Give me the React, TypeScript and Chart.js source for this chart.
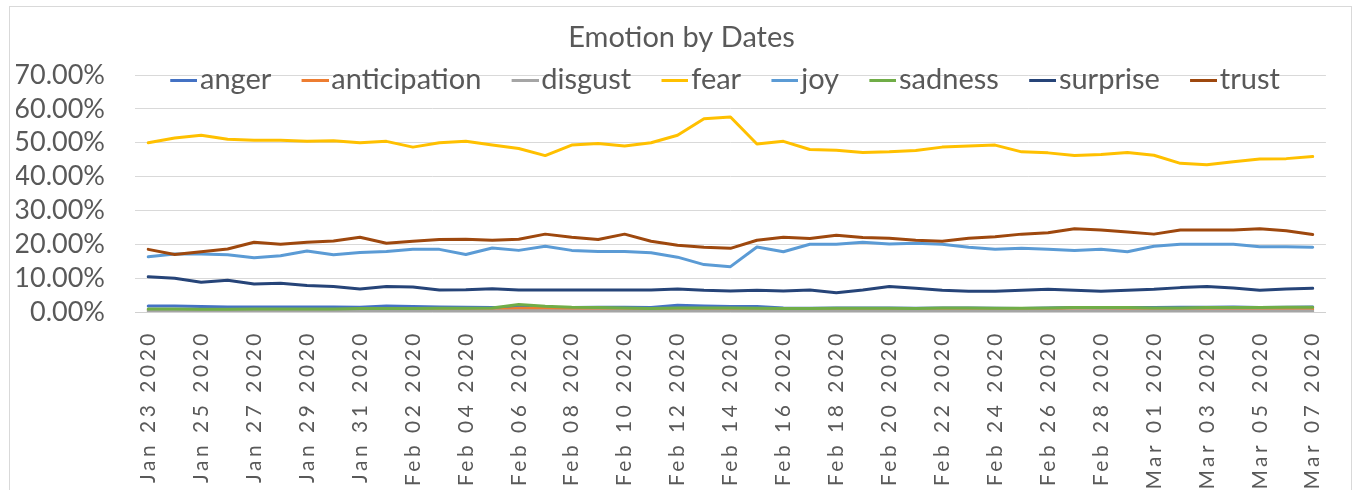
import { useEffect, useRef } from 'react';
import { Chart, registerables } from 'chart.js';

Chart.register(...registerables);

const DATES = [
  'Jan 23 2020', 'Jan 24 2020', 'Jan 25 2020', 'Jan 26 2020', 'Jan 27 2020', 'Jan 28 2020', 'Jan 29 2020',
  'Jan 30 2020', 'Jan 31 2020', 'Feb 01 2020', 'Feb 02 2020', 'Feb 03 2020', 'Feb 04 2020', 'Feb 05 2020',
  'Feb 06 2020', 'Feb 07 2020', 'Feb 08 2020', 'Feb 09 2020', 'Feb 10 2020', 'Feb 11 2020', 'Feb 12 2020',
  'Feb 13 2020', 'Feb 14 2020', 'Feb 15 2020', 'Feb 16 2020', 'Feb 17 2020', 'Feb 18 2020', 'Feb 19 2020',
  'Feb 20 2020', 'Feb 21 2020', 'Feb 22 2020', 'Feb 23 2020', 'Feb 24 2020', 'Feb 25 2020', 'Feb 26 2020',
  'Feb 27 2020', 'Feb 28 2020', 'Feb 29 2020', 'Mar 01 2020', 'Mar 02 2020', 'Mar 03 2020', 'Mar 04 2020',
  'Mar 05 2020', 'Mar 06 2020', 'Mar 07 2020',
];

const ANGER = [
  1.8, 1.8, 1.6, 1.5, 1.5, 1.5, 1.5, 1.5, 1.4, 1.8, 1.6, 1.5, 1.4, 1.3, 1.4, 1.2, 1.3, 1.4, 1.4, 1.3,
  2.0, 1.8, 1.6, 1.6, 1.2, 1.1, 1.2, 1.2, 1.2, 1.1, 1.2, 1.2, 1.1, 1.0, 1.2, 1.3, 1.2, 1.3, 1.3, 1.4,
  1.4, 1.5, 1.3, 1.4, 1.5,
];
const ANTICIPATION = [
  0.6, 0.5, 0.3, 0.3, 0.3, 0.4, 0.5, 0.5, 0.5, 0.5, 0.6, 0.5, 0.6, 0.5, 1.1, 1.0, 0.9, 0.8, 0.7, 0.5,
  0.6, 0.7, 0.7, 0.6, 0.6, 0.6, 0.6, 0.6, 0.5, 0.6, 0.6, 0.6, 0.7, 0.7, 0.9, 1.2, 1.0, 0.9, 0.8, 0.9,
  0.9, 0.9, 0.8, 0.9, 0.9,
];
const DISGUST = [
  0.3, 0.3, 0.2, 0.2, 0.3, 0.3, 0.3, 0.3, 0.3, 0.3, 0.3, 0.3, 0.3, 0.3, 0.4, 0.4, 0.3, 0.3, 0.3, 0.2,
  0.3, 0.3, 0.3, 0.3, 0.3, 0.3, 0.3, 0.3, 0.3, 0.3, 0.3, 0.3, 0.3, 0.3, 0.3, 0.3, 0.4, 0.3, 0.3, 0.3,
  0.3, 0.3, 0.3, 0.3, 0.3,
];
const FEAR = [
  50.0, 51.4, 52.2, 51.0, 50.7, 50.7, 50.4, 50.6, 50.0, 50.4, 48.7, 50.0, 50.4, 49.3, 48.3, 46.2, 49.3,
  49.8, 49.0, 50.0, 52.2, 57.1, 57.6, 49.6, 50.4, 48.0, 47.8, 47.1, 47.3, 47.7, 48.7, 49.0, 49.3, 47.3,
  47.0, 46.2, 46.5, 47.1, 46.3, 43.9, 43.5, 44.4, 45.2, 45.3, 45.9,
];
const JOY = [
  16.3, 17.1, 17.1, 16.9, 16.0, 16.6, 18.0, 16.9, 17.6, 17.9, 18.5, 18.5, 17.0, 18.9, 18.2, 19.4, 18.2,
  17.9, 17.9, 17.5, 16.2, 14.0, 13.4, 19.2, 17.8, 20.0, 20.0, 20.6, 20.1, 20.3, 20.0, 19.1, 18.5, 18.8,
  18.5, 18.2, 18.5, 17.8, 19.4, 20.0, 20.0, 20.0, 19.3, 19.3, 19.1,
];
const SADNESS = [
  0.9, 0.9, 0.8, 0.8, 0.9, 0.9, 0.9, 0.9, 1.0, 1.0, 1.0, 1.1, 1.1, 1.2, 2.2, 1.7, 1.4, 1.3, 1.2, 1.0,
  1.2, 1.2, 1.2, 1.1, 1.0, 1.0, 1.1, 1.1, 1.1, 1.0, 1.2, 1.2, 1.1, 1.1, 1.2, 1.3, 1.3, 1.3, 1.2, 1.2,
  1.3, 1.3, 1.3, 1.4, 1.4,
];
const SURPRISE = [
  10.4, 10.0, 8.8, 9.4, 8.3, 8.5, 7.8, 7.5, 6.8, 7.5, 7.4, 6.5, 6.6, 6.9, 6.5, 6.5, 6.5, 6.5, 6.5, 6.5,
  6.8, 6.4, 6.2, 6.4, 6.2, 6.5, 5.7, 6.5, 7.5, 7.0, 6.4, 6.1, 6.1, 6.4, 6.7, 6.4, 6.1, 6.4, 6.7, 7.2,
  7.5, 7.1, 6.4, 6.8, 7.0,
];
const TRUST = [
  18.5, 17.0, 17.8, 18.6, 20.6, 20.0, 20.6, 21.0, 22.1, 20.3, 20.9, 21.4, 21.5, 21.2, 21.5, 23.0, 22.1,
  21.4, 23.0, 20.9, 19.7, 19.1, 18.8, 21.2, 22.1, 21.7, 22.7, 22.0, 21.8, 21.2, 20.9, 21.8, 22.2, 23.0,
  23.4, 24.6, 24.2, 23.6, 23.0, 24.2, 24.2, 24.2, 24.6, 24.0, 22.9,
];

const SERIES_NAMES = ['anger', 'anticipation', 'disgust', 'fear', 'joy', 'sadness', 'surprise', 'trust'];
const SERIES_VALUES = [ANGER, ANTICIPATION, DISGUST, FEAR, JOY, SADNESS, SURPRISE, TRUST];
const SERIES_COLORS = ['#4472C4', '#ED7D31', '#A5A5A5', '#FFC000', '#5B9BD5', '#70AD47', '#264478', '#9E480E'];

const Y_MIN = 0;
const Y_MAX = 70;
const Y_STEP = 10;

const TITLE = 'Emotion by Dates';
const TEXT_COLOR = '#595959';
const FONT = 'Lato, "Open Sans", sans-serif';

function makeLegendLine(color: string): HTMLCanvasElement {
  const c = document.createElement('canvas');
  c.width = 39;
  c.height = 3;
  const ctx = c.getContext('2d');
  if (ctx) {
    ctx.fillStyle = color;
    ctx.fillRect(12, 0, 27, 3);
  }
  return c;
}

const legendPlacement = {
  id: 'legendPlacement',
  beforeDraw(chart: any) {
    const lg = chart.legend;
    const ca = chart.chartArea;
    if (!lg || !ca) return;
    lg.top = ca.top - 39.5;
    lg.bottom = ca.top + 40;
    lg.left = ca.left + 5;
    lg.right = ca.right;
  },
};

const xLabelSpacing = {
  id: 'xLabelSpacing',
  afterDatasetsDraw(chart: any) {
    chart.ctx.letterSpacing = '3.5px';
  },
  afterDraw(chart: any) {
    chart.ctx.letterSpacing = '0px';
  },
};

export default function App() {
  const canvasRef = useRef<HTMLCanvasElement | null>(null);

  useEffect(() => {
    if (!canvasRef.current) return;
    const n = SERIES_NAMES.length;
    const chart = new Chart(canvasRef.current, {
      type: 'line',
      data: {
        labels: DATES,
        datasets: SERIES_NAMES.map((name, i) => ({
          label: name,
          data: SERIES_VALUES[i],
          borderColor: SERIES_COLORS[i],
          backgroundColor: SERIES_COLORS[i],
          borderWidth: 3,
          pointRadius: 0,
          pointHoverRadius: 0,
          pointStyle: makeLegendLine(SERIES_COLORS[i]) as any,
          tension: 0,
          borderJoinStyle: 'round' as const,
          borderCapStyle: 'round' as const,
          fill: false,
          order: n - i,
        })),
      },
      options: {
        animation: false,
        responsive: true,
        maintainAspectRatio: false,
        events: [],
        layout: { padding: { left: 16, right: 9, top: 0, bottom: 0 } },
        plugins: {
          title: {
            display: true,
            text: TITLE,
            color: TEXT_COLOR,
            font: { family: FONT, size: 29, weight: 'normal' },
            padding: { top: 20, bottom: 19.2 },
          },
          legend: {
            display: true,
            position: 'top',
            align: 'start',
            maxHeight: 1,
            labels: {
              usePointStyle: true,
              pointStyleWidth: 15.5,
              color: TEXT_COLOR,
              font: { family: FONT, size: 29 },
              padding: 30,
              sort: (a: any, b: any) => a.datasetIndex - b.datasetIndex,
            },
          },
          tooltip: { enabled: false },
        },
        scales: {
          x: {
            type: 'category',
            offset: true,
            grid: { display: false, drawTicks: false },
            border: { display: true, color: '#d0d0d0', width: 1 },
            ticks: {
              autoSkip: false,
              minRotation: 90,
              maxRotation: 90,
              padding: 18,
              color: TEXT_COLOR,
              font: { family: FONT, size: 21 },
              z: 1,
              callback: function (this: any, value: any, index: number) {
                return index % 2 === 0 ? this.getLabelForValue(value) : '';
              },
            },
            afterFit: (axis: any) => {
              axis.height = 178;
            },
          },
          y: {
            min: Y_MIN,
            max: Y_MAX,
            grid: { color: '#d9d9d9', lineWidth: 1, drawTicks: false },
            border: { display: false },
            ticks: {
              stepSize: Y_STEP,
              autoSkip: false,
              padding: 30,
              color: TEXT_COLOR,
              font: { family: FONT, size: 27 },
              callback: (v: any) => Number(v).toFixed(2) + '%',
            },
            afterFit: (axis: any) => {
              axis.width = 119;
            },
          },
        },
      } as any,
      plugins: [legendPlacement, xLabelSpacing],
    });
    return () => chart.destroy();
  }, []);

  return (
    <div style={{ position: 'absolute', left: 0, top: 0, width: 1356, height: 490, overflow: 'hidden', background: '#ffffff' }}>
      <canvas ref={canvasRef} />
      <div
        style={{
          position: 'absolute',
          left: 9,
          top: 6,
          width: 1343,
          height: 500,
          border: '1px solid #d9d9d9',
          boxSizing: 'border-box',
          pointerEvents: 'none',
        }}
      />
    </div>
  );
}
